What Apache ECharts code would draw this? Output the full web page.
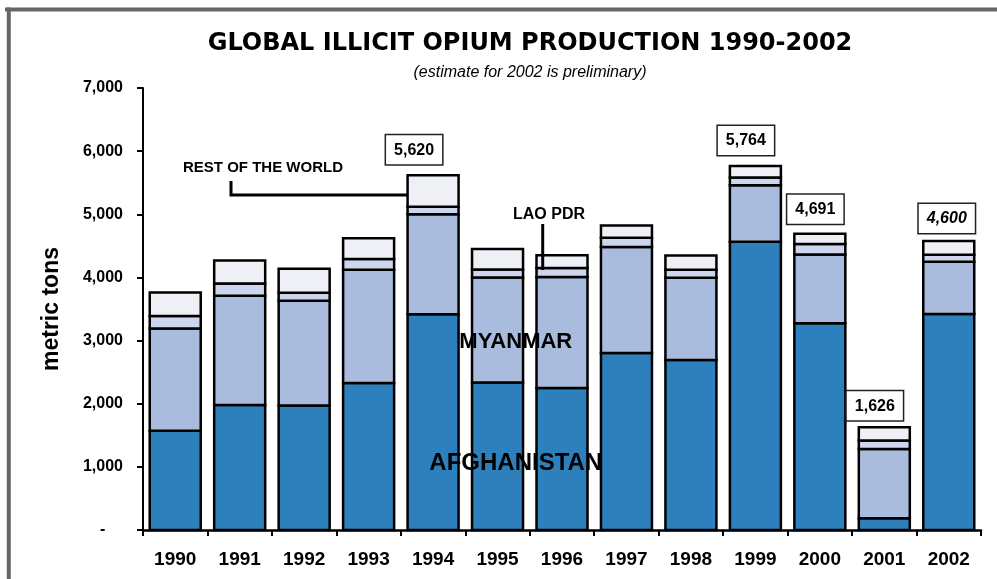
<!DOCTYPE html>
<html><head><meta charset="utf-8">
<script src="https://cdn.jsdelivr.net/npm/echarts@6/dist/echarts.min.js"></script>
<style>html,body{margin:0;padding:0;background:#fff}#c{width:997px;height:579px}</style>
</head><body><div id="c"></div>
<script>
// ---- data ----
const years = ['1990','1991','1992','1993','1994','1995','1996','1997','1998','1999','2000','2001','2002'];
const afghanistan = [1570,1980,1970,2330,3416,2335,2248,2804,2693,4565,3276,185,3420];
const myanmar     = [1620,1728,1660,1791,1583,1664,1760,1676,1303,895,1087,1097,828];
const laoPDR      = [200,196,127,169,120,128,140,147,124,124,167,134,112];
const restOfWorld = [370,366,379,330,501,323,202,196,226,180,161,210,218];
const totalLabelYears  = ['1994','1999','2000','2001','2002'];
const totalLabelTexts  = ['5,620','5,764','4,691','1,626','4,600'];
const totalLabelItalic = [false,false,false,false,true];
// ---- layout (pixel offsets of total boxes from bar-top centre) ----
const totalLabelOffsets = [[-19,-11],[-9.5,-11],[-4.5,-10],[-9.5,-7],[-2,-8]];
const segmentColors = ['#2E80BC', '#AABCDD', '#CDD6EC', '#EEF0F6'];

const FONT = '"Liberation Sans", Arial, sans-serif';
const seriesData = years.map((y, i) => [i, afghanistan[i], myanmar[i], laoPDR[i], restOfWorld[i]]);

function renderItem(params, api) {
  const i = api.value(0);
  const w = 51;
  const children = [];
  let base = 0;
  for (let k = 0; k < 4; k++) {
    const v = api.value(k + 1);
    const p0 = api.coord([i, base]);
    const p1 = api.coord([i, base + v]);
    children.push({
      type: 'rect',
      shape: { x: p0[0] - w / 2, y: p1[1], width: w, height: p0[1] - p1[1] },
      style: { fill: segmentColors[k], stroke: '#000', lineWidth: 2.5 }
    });
    base += v;
  }
  const li = totalLabelYears.indexOf(years[i]);
  if (li >= 0) {
    const top = api.coord([i, base]);
    children.push({
      type: 'text', z2: 10,
      style: {
        text: totalLabelTexts[li],
        x: top[0] + totalLabelOffsets[li][0],
        y: top[1] + totalLabelOffsets[li][1],
        align: 'center', verticalAlign: 'bottom',
        font: (totalLabelItalic[li] ? 'italic ' : '') + 'bold 16px ' + FONT,
        fill: '#000', backgroundColor: '#fff', borderColor: '#222', borderWidth: 1.5,
        padding: [7, 8, 6, 8]
      }
    });
  }
  return { type: 'group', children };
}

const chart = echarts.init(document.getElementById('c'), null, { renderer: 'canvas' });
chart.setOption({
  animation: false,
  backgroundColor: '#fff',
  grid: { left: 143, right: 16, top: 88, bottom: 49, containLabel: false, outerBoundsMode: 'none' },
  xAxis: {
    type: 'category', data: years,
    axisLine: { lineStyle: { color: '#000', width: 2.5 } },
    axisTick: { show: true, length: 6, alignWithLabel: false, lineStyle: { color: '#000', width: 2 } },
    axisLabel: { color: '#000', fontWeight: 'bold', fontSize: 19, fontFamily: FONT, margin: 20, interval: 0 },
    splitLine: { show: false }
  },
  yAxis: {
    type: 'value', min: 0, max: 7000, interval: 1000,
    axisLine: { show: true, lineStyle: { color: '#000', width: 2 } },
    axisTick: { show: true, length: 6, lineStyle: { color: '#000', width: 2 } },
    splitLine: { show: false },
    axisLabel: {
      color: '#000', fontWeight: 'bold', fontSize: 16, fontFamily: FONT, margin: 20,
      formatter: v => v === 0 ? '-    ' : v.toLocaleString('en-US')
    },
    name: 'metric tons', nameLocation: 'middle', nameGap: 80, nameRotate: 90,
    nameTextStyle: { color: '#000', fontWeight: 'bold', fontSize: 23, fontFamily: FONT }
  },
  series: [{
    type: 'custom', name: 'production', data: seriesData,
    encode: { x: 0, y: [1, 2, 3, 4] },
    renderItem: renderItem,
    clip: false,
    emphasis: { disabled: true }
  }],
  graphic: [
    { type: 'line', shape: { x1: 5, y1: 9.5, x2: 997, y2: 9.5 }, style: { stroke: '#666', lineWidth: 4 }, z: 100 },
    { type: 'line', shape: { x1: 8.8, y1: 7.5, x2: 8.8, y2: 579 }, style: { stroke: '#666', lineWidth: 4 }, z: 100 },
    { type: 'text', x: 530, y: 44, style: { text: 'GLOBAL ILLICIT OPIUM PRODUCTION 1990-2002', font: 'bold 24px "DejaVu Sans", sans-serif', fill: '#000', textAlign: 'center', textVerticalAlign: 'middle' }, z: 100 },
    { type: 'text', x: 530, y: 73, style: { text: '(estimate for 2002 is preliminary)', font: 'italic 16px "Liberation Sans", Arial, sans-serif', fill: '#000', textAlign: 'center', textVerticalAlign: 'middle' }, z: 100 },
    { type: 'text', x: 515.8, y: 342, style: { text: 'MYANMAR', font: 'bold 22px "Liberation Sans", Arial, sans-serif', fill: '#000', textAlign: 'center', textVerticalAlign: 'middle' }, z: 100 },
    { type: 'text', x: 515.8, y: 463, style: { text: 'AFGHANISTAN', font: 'bold 24px "Liberation Sans", Arial, sans-serif', fill: '#000', textAlign: 'center', textVerticalAlign: 'middle' }, z: 100 },
    { type: 'text', x: 183, y: 168, style: { text: 'REST OF THE WORLD', font: 'bold 15px "Liberation Sans", Arial, sans-serif', fill: '#000', textAlign: 'left', textVerticalAlign: 'middle' }, z: 100 },
    { type: 'polyline', shape: { points: [[231, 181], [231, 195], [407, 195]] }, style: { stroke: '#000', lineWidth: 3, fill: null }, z: 100 },
    { type: 'text', x: 549, y: 215, style: { text: 'LAO PDR', font: 'bold 16px "Liberation Sans", Arial, sans-serif', fill: '#000', textAlign: 'center', textVerticalAlign: 'middle' }, z: 100 },
    { type: 'line', shape: { x1: 542.7, y1: 224, x2: 542.7, y2: 270 }, style: { stroke: '#000', lineWidth: 3 }, z: 100 }
  ]
});
</script>
</body></html>
